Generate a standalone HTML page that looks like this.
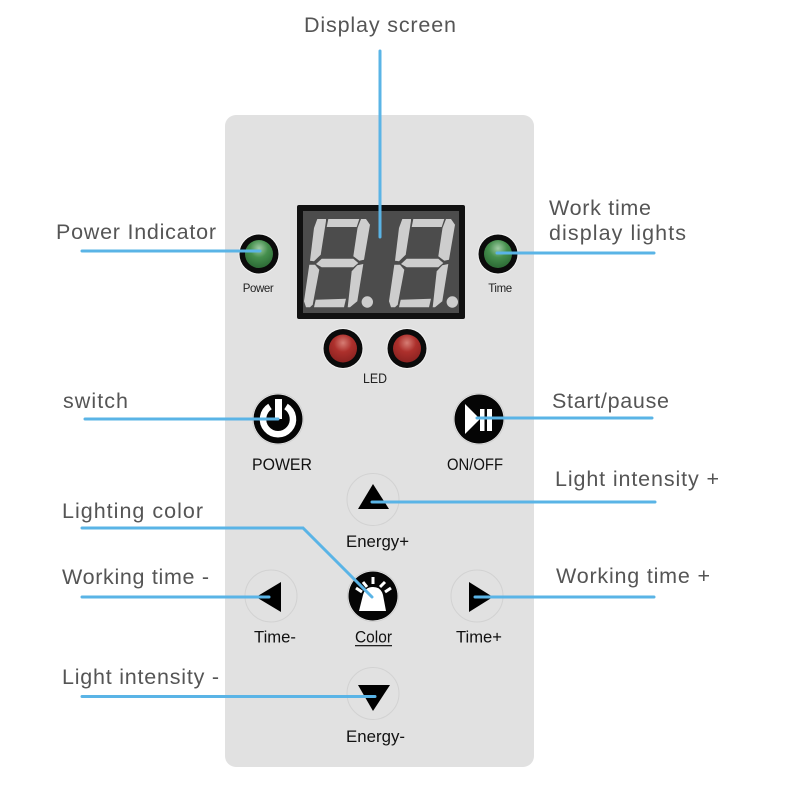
<!DOCTYPE html>
<html>
<head>
<meta charset="utf-8">
<style>
html,body{margin:0;padding:0;background:#fff}
svg{display:block}
text{font-family:"Liberation Sans",sans-serif}
.l{font-size:21.5px;fill:#555}
.b{font-size:16.5px;fill:#111}
.s{font-size:11.5px;fill:#222;text-anchor:middle;letter-spacing:-.4px}
.c{fill:none;stroke:#d2d2d2;stroke-width:1}
.ln{stroke:#5ab4e6;stroke-width:3;fill:none;stroke-linecap:round;stroke-linejoin:miter}
.seg{fill:#cdcdcd}
</style>
</head>
<body>
<svg width="800" height="800" viewBox="0 0 800 800" xmlns="http://www.w3.org/2000/svg">
<defs>
<radialGradient id="g" cx="50%" cy="30%" r="65%"><stop offset="0" stop-color="#9fcba4"/><stop offset=".5" stop-color="#458f4d"/><stop offset="1" stop-color="#2f6f38"/></radialGradient>
<radialGradient id="r" cx="50%" cy="30%" r="65%"><stop offset="0" stop-color="#d67d74"/><stop offset=".5" stop-color="#ad302c"/><stop offset="1" stop-color="#8f2422"/></radialGradient>
<g id="digit">
<polygon class="seg" points="328.3,219 359.3,219 356.7,227 326.7,227"/>
<polygon class="seg" points="317.3,219 326,219 326,221 320.7,254.7 314,261.3 310,260.7 314,228"/>
<polygon class="seg" points="361,219 366,219 370,224.7 364,259.7 359.3,260.7 353.3,256.3 357.5,228"/>
<polygon class="seg" points="316,264 321.7,258.7 353.3,258.7 358.3,263 353.3,267.3 321.7,267.3"/>
<polygon class="seg" points="309.3,264.7 315,264.7 319.3,269.7 312.7,304.7 310,307.3 306,307.3 304,301.3"/>
<polygon class="seg" points="357.3,265.3 363.3,264 357.3,301.3 350,307.3 347.7,307.3 351.7,271.3"/>
<polygon class="seg" points="315.7,299.7 346,298.7 344,307.3 314,307.3"/>
<circle class="seg" cx="367.3" cy="302" r="5.7"/>
</g>
</defs>

<rect x="225" y="115" width="309" height="652" rx="11" fill="#e1e1e1"/>

<!-- display -->
<rect x="297" y="205" width="168" height="114" rx="2" fill="#111"/>
<rect x="303" y="211" width="156" height="102" fill="#4c4c4c"/>
<use href="#digit"/>
<use href="#digit" x="85"/>

<!-- indicator LEDs -->
<circle cx="259" cy="254" r="20.5" fill="#f2f2f2"/><circle cx="259" cy="254" r="19.5" fill="#0b0b0b"/><circle cx="259" cy="254" r="14" fill="url(#g)"/>
<circle cx="498" cy="254" r="20.5" fill="#f2f2f2"/><circle cx="498" cy="254" r="19.5" fill="#0b0b0b"/><circle cx="498" cy="254" r="14" fill="url(#g)"/>
<circle cx="343" cy="348.5" r="20.5" fill="#f2f2f2"/><circle cx="343" cy="348.5" r="19.5" fill="#0b0b0b"/><circle cx="343" cy="348.5" r="14" fill="url(#r)"/>
<circle cx="407" cy="348.5" r="20.5" fill="#f2f2f2"/><circle cx="407" cy="348.5" r="19.5" fill="#0b0b0b"/><circle cx="407" cy="348.5" r="14" fill="url(#r)"/>

<text class="s" x="258" y="292">Power</text>
<text class="s" x="500" y="292">Time</text>
<text x="363" y="383" font-size="14" fill="#222" textLength="24" lengthAdjust="spacingAndGlyphs">LED</text>

<!-- power button -->
<circle cx="278" cy="419" r="25.5" fill="#f0f0f0" stroke="#d0d0d0"/>
<circle cx="278" cy="419" r="24.5" fill="#050505"/>
<path d="M270 406.5 A15 15 0 1 0 286 406.5" fill="none" stroke="#fff" stroke-width="6.5"/>
<rect x="273" y="396" width="11" height="25" fill="#050505"/>
<rect x="275" y="399" width="7" height="20" fill="#fff"/>

<!-- on/off button -->
<circle cx="479" cy="419" r="25.5" fill="#f0f0f0" stroke="#d0d0d0"/>
<circle cx="479" cy="419" r="24.5" fill="#050505"/>
<polygon points="465,404 465,434 480,419" fill="#fff"/>
<rect x="480" y="409" width="4.5" height="22" fill="#fff"/>
<rect x="487" y="409" width="5" height="22" fill="#fff"/>

<text class="b" x="252" y="470" textLength="60" lengthAdjust="spacingAndGlyphs">POWER</text>
<text class="b" x="447" y="470" textLength="56" lengthAdjust="spacingAndGlyphs">ON/OFF</text>

<!-- energy + -->
<circle class="c" cx="373" cy="499.5" r="26"/>
<polygon points="373,484 389,509 358,509" fill="#000"/>
<text class="b" x="346" y="547" textLength="63" lengthAdjust="spacingAndGlyphs">Energy+</text>

<!-- time - -->
<circle class="c" cx="271" cy="596" r="26"/>
<polygon points="281,582 281,612 256,597" fill="#000"/>
<text class="b" x="254" y="642.5" textLength="42" lengthAdjust="spacingAndGlyphs">Time-</text>

<!-- color -->
<circle cx="373" cy="596" r="25.5" fill="#f0f0f0" stroke="#d0d0d0"/>
<circle cx="373" cy="596" r="24.5" fill="#050505"/>
<path d="M359 611 L363 595 Q365 587 373 587 Q381 587 383 595 L386 611 Z" fill="#fff"/>
<g stroke="#fff" stroke-width="3">
<line x1="373" y1="577" x2="373" y2="584"/>
<line x1="385" y1="582" x2="380" y2="587"/>
<line x1="391" y1="588" x2="385" y2="592"/>
<line x1="363" y1="582" x2="367" y2="587"/>
<line x1="356" y1="588" x2="362" y2="592"/>
</g>
<text class="b" x="355" y="642.5" textLength="37" lengthAdjust="spacingAndGlyphs">Color</text>
<rect x="355" y="645" width="37" height="1.3" fill="#222"/>

<!-- time + -->
<circle class="c" cx="477" cy="596" r="26"/>
<polygon points="469,582 469,612 493,597" fill="#000"/>
<text class="b" x="456" y="642.5" textLength="46" lengthAdjust="spacingAndGlyphs">Time+</text>

<!-- energy - -->
<circle class="c" cx="373" cy="693.5" r="26"/>
<polygon points="358,685 390,685 373,711" fill="#000"/>
<text class="b" x="346" y="742" textLength="59" lengthAdjust="spacingAndGlyphs">Energy-</text>

<!-- labels -->
<text class="l" x="304" y="32" textLength="152">Display screen</text>
<text class="l" x="56" y="239" textLength="160">Power Indicator</text>
<text class="l" x="549" y="215" textLength="102">Work time</text>
<text class="l" x="549" y="240" textLength="137">display lights</text>
<text class="l" x="63" y="408" textLength="65">switch</text>
<text class="l" x="552" y="408" textLength="117">Start/pause</text>
<text class="l" x="555" y="486" textLength="164">Light intensity +</text>
<text class="l" x="62" y="518" textLength="141">Lighting color</text>
<text class="l" x="62" y="584" textLength="147">Working time -</text>
<text class="l" x="556" y="583" textLength="154">Working time +</text>
<text class="l" x="62" y="684" textLength="157">Light intensity -</text>

<!-- leader lines -->
<path class="ln" d="M380 51V237"/>
<path class="ln" d="M82 251H260"/>
<path class="ln" d="M497 253H654"/>
<path class="ln" d="M85 419H278"/>
<path class="ln" d="M477 418H652"/>
<path class="ln" d="M372 502H655"/>
<path class="ln" d="M82 528H303L372 597"/>
<path class="ln" d="M82 597H269"/>
<path class="ln" d="M475 597H654"/>
<path class="ln" d="M82 696.5H375"/>
</svg>
</body>
</html>
